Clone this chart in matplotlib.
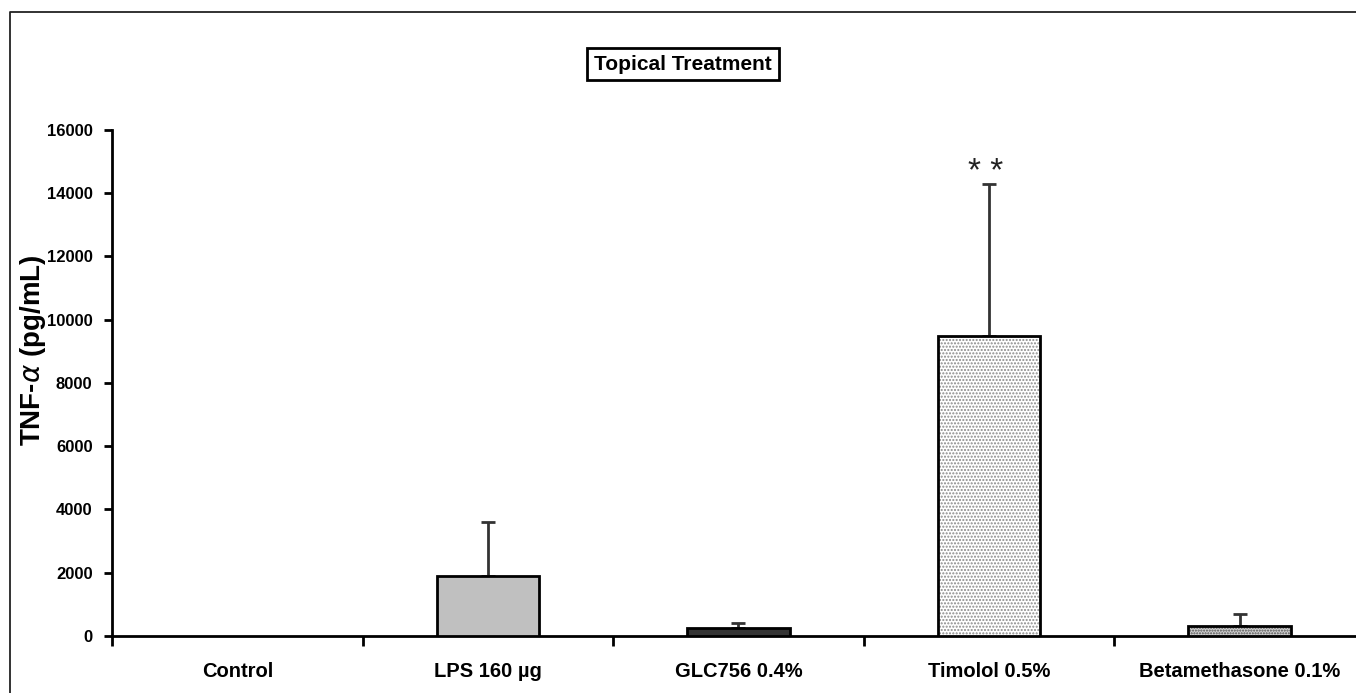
import numpy as np
import matplotlib
matplotlib.use("Agg")
import matplotlib.pyplot as plt
from matplotlib.lines import Line2D
from matplotlib.ticker import FixedLocator

plt.rcParams['font.family'] = ['Liberation Sans', 'DejaVu Sans']
plt.rcParams['hatch.linewidth'] = 1.0

# data
groups = ['Control', 'LPS 160 µg', 'GLC756 0.4%', 'Timolol 0.5%', 'Betamethasone 0.1%']
tnf_mean = [0, 1900, 250, 9500, 330]
tnf_sd = [0, 1700, 150, 4800, 370]
fills = ['white', '#c0c0c0', '#333333', 'white', '#d0d0d0']
hatches = [None, None, None, '.....', '......']
hatch_cols = ['black', 'black', 'black', '#8a8a8a', '#505050']

fig = plt.figure(figsize=(13.56, 6.93), dpi=100)
ax = fig.add_axes([0.0826, 0.0823, 0.924, 0.7301])

x = np.arange(1, len(groups) + 1)
for i in range(len(groups)):
    if tnf_mean[i] == 0:
        continue
    if hatches[i]:
        # hatch colour drawn on its own bar so the outline stays black
        ax.bar(x[i], tnf_mean[i], width=0.41, color=fills[i], edgecolor=hatch_cols[i],
               linewidth=0, hatch=hatches[i], zorder=3)
        ax.bar(x[i], tnf_mean[i], width=0.41, color='none', edgecolor='black',
               linewidth=2, zorder=4)
    else:
        ax.bar(x[i], tnf_mean[i], width=0.41, color=fills[i], edgecolor='black',
               linewidth=2, zorder=3)
    ax.errorbar(x[i], tnf_mean[i], yerr=[[0], [tnf_sd[i]]], fmt='none',
                ecolor='#333333', elinewidth=2, capsize=5, capthick=2, zorder=2)

ax.text(x[3] - 0.015, 14650, '* *', ha='center', va='center',
        fontsize=24, color='#222222')

ax.set_xlim(0.5, 5.5)
ax.set_ylim(0, 16000)
ax.set_yticks(np.arange(0, 16001, 2000))
ax.set_xticks(x)
ax.set_xticklabels(groups, fontsize=14.5, fontweight='bold')
ax.xaxis.set_minor_locator(FixedLocator(np.arange(0.5, 6, 1)))
ax.tick_params(axis='x', which='major', length=0, pad=19)
ax.tick_params(axis='x', which='minor', length=7, width=2, direction='out')
ax.tick_params(axis='y', length=6, width=2, direction='out', pad=8, labelsize=12)
for lab in ax.get_yticklabels():
    lab.set_fontweight('bold')
for s in ['top', 'right']:
    ax.spines[s].set_visible(False)
for s in ['left', 'bottom']:
    ax.spines[s].set_linewidth(2)

ax.set_ylabel('TNF-$\\alpha$ (pg/mL)', fontsize=20, fontweight='bold')
ax.yaxis.set_label_coords(-0.051, 0.565)

fig.text(0.5037, 0.9076, 'Topical Treatment', ha='center', va='center', fontsize=15,
         fontweight='bold',
         bbox=dict(boxstyle='square,pad=0.33', facecolor='white', edgecolor='black', linewidth=2))

# outer frame (only left and top edges are inside the picture)
fig.add_artist(Line2D([0.0074, 0.0074, 1.0], [0.0, 0.9827, 0.9827], transform=fig.transFigure,
                      color='#222222', linewidth=1.3))

fig.savefig('out.png', dpi=100)
